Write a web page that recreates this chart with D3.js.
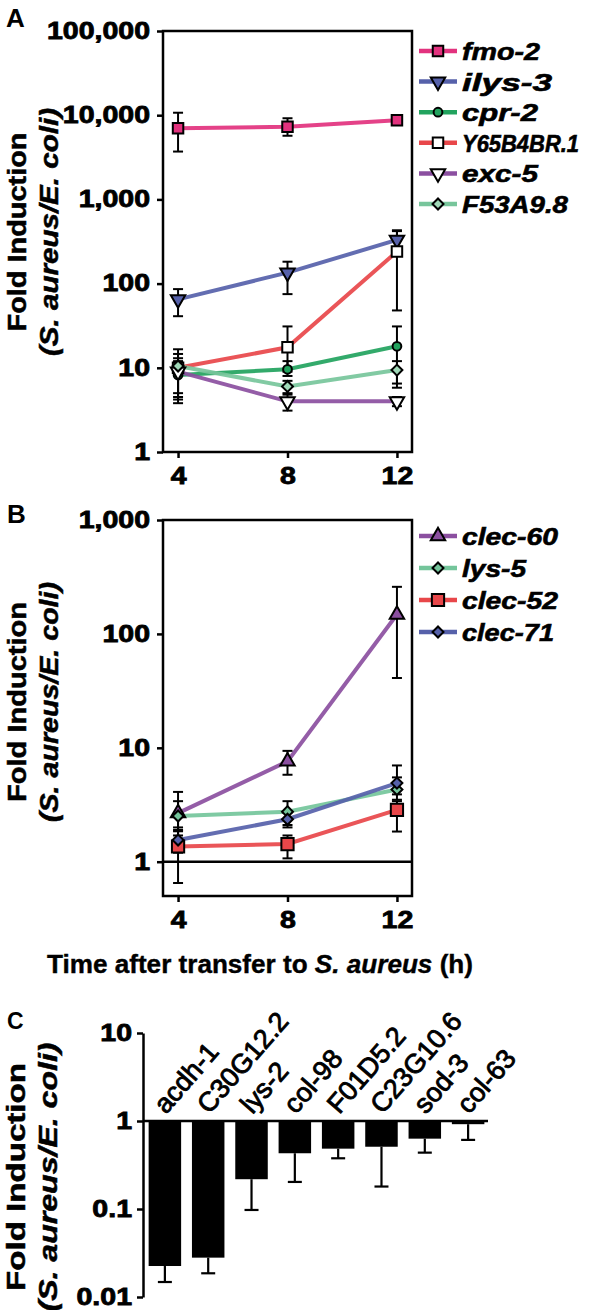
<!DOCTYPE html>
<html><head><meta charset="utf-8">
<script src="https://cdn.jsdelivr.net/npm/d3@7"></script>
<style>
body{margin:0;background:#fff}
svg{display:block}
text{font-family:"Liberation Sans",Arial,Helvetica,sans-serif}
</style>
</head><body>
<svg id="c" width="594" height="1310"></svg>
<script>
// ---------------- DATA ----------------
const times = [4, 8, 12];
const timeTicks = [4, 8, 12];

// Panel A
const aGenes = ["fmo-2", "ilys-3", "cpr-2", "Y65B4BR.1", "exc-5", "F53A9.8"];
const fmo2   = [7000, 7300, 8700],  fmo2Hi = [10700, 9200, 9600],  fmo2Lo = [3700, 5700, 7800];
const ilys3  = [65, 135, 330],      ilys3Hi = [86, 182, 430],      ilys3Lo = [41, 75, 270];
const cpr2   = [8.2, 9.6, 18],      cpr2Hi = [14.6, 12, 31],       cpr2Lo = [4.5, 8, 5.8];
const y65    = [10, 17.5, 240],     y65Hi = [16.6, 31, 420],       y65Lo = [5, 9, 48];
const exc5   = [9, 4, 4],           exc5Hi = [12, 4.8, 4.5],       exc5Lo = [3.8, 3.1, 3.5];
const f53    = [10.5, 6, 9.4],      f53Hi = [13, 7, 12],           f53Lo = [4.2, 5, 6.5];
const aTicks = [1, 10, 100, 1000, 10000, 100000];

// Panel B
const bGenes = ["clec-60", "lys-5", "clec-52", "clec-71"];
const clec60 = [2.67, 7.6, 148],    clec60Hi = [4.1, 9.4, 259],    clec60Lo = [1.7, 5.8, 41];
const lys5   = [2.52, 2.75, 4.3],   lys5Hi = [3.4, 3.4, 5.5],      lys5Lo = [1.9, 2.1, 3.5];
const clec52 = [1.36, 1.43, 2.85],  clec52Hi = [2.0, 1.7, 3.4],    clec52Lo = [0.65, 1.07, 1.84];
const clec71 = [1.55, 2.36, 4.9],   clec71Hi = [1.85, 2.7, 7.0],   clec71Lo = [1.2, 2.0, 3.9];
const bTicks = [1, 10, 100, 1000];

// Panel C
const cGenes = ["acdh-1", "C30G12.2", "lys-2", "col-98", "F01D5.2", "C23G10.6", "sod-3", "col-63"];
const cValues = [0.0225, 0.028, 0.218, 0.43, 0.485, 0.51, 0.63, 0.92];
const cErrLo  = [0.0148, 0.0186, 0.0975, 0.203, 0.377, 0.18, 0.437, 0.61];
const cTicks = [0.01, 0.1, 1, 10];

// ---------------- STYLES ----------------
const aSeries = [
  {name: aGenes[0], v: fmo2,  hi: fmo2Hi,  lo: fmo2Lo,  color: "#e2327e", sym: "square", fill: "#e2327e"},
  {name: aGenes[1], v: ilys3, hi: ilys3Hi, lo: ilys3Lo, color: "#5661aa", sym: "down",   fill: "#5661aa"},
  {name: aGenes[2], v: cpr2,  hi: cpr2Hi,  lo: cpr2Lo,  color: "#22a35e", sym: "circle", fill: "#22a35e"},
  {name: aGenes[3], v: y65,   hi: y65Hi,   lo: y65Lo,   color: "#e8474a", sym: "square", fill: "#ffffff"},
  {name: aGenes[4], v: exc5,  hi: exc5Hi,  lo: exc5Lo,  color: "#8b4fa0", sym: "down",   fill: "#ffffff"},
  {name: aGenes[5], v: f53,   hi: f53Hi,   lo: f53Lo,   color: "#77c59b", sym: "diamond",fill: "#9fd8b7"}
];
const bSeries = [
  {name: bGenes[0], v: clec60, hi: clec60Hi, lo: clec60Lo, color: "#8b4fa0", sym: "up",      fill: "#8b4fa0"},
  {name: bGenes[1], v: lys5,   hi: lys5Hi,   lo: lys5Lo,   color: "#74c59b", sym: "diamond", fill: "#74c59b"},
  {name: bGenes[2], v: clec52, hi: clec52Hi, lo: clec52Lo, color: "#e8474a", sym: "squareL", fill: "#e8474a"},
  {name: bGenes[3], v: clec71, hi: clec71Hi, lo: clec71Lo, color: "#5661aa", sym: "diamond", fill: "#5661aa"}
];

const svg = d3.select("#c");
const FONT = '"Liberation Sans",Arial,Helvetica,sans-serif';

function fit(sel, k) {
  sel.each(function () {
    const w = this.getComputedTextLength();
    d3.select(this).attr("textLength", w * k).attr("lengthAdjust", "spacingAndGlyphs");
  });
}
function fitTo(sel, len) {
  sel.attr("textLength", len).attr("lengthAdjust", "spacingAndGlyphs");
}

function symPath(type) {
  const s = {
    square: d3.symbol(d3.symbolSquare, 110)(),
    squareL: d3.symbol(d3.symbolSquare, 150)(),
    circle: d3.symbol(d3.symbolCircle, 60)(),
    up: d3.symbol(d3.symbolTriangle, 90)(),
    down: d3.symbol(d3.symbolTriangle, 90)(),
    diamond: d3.symbol(d3.symbolSquare, 60)()
  };
  return s[type];
}
function symTransform(type, x, y) {
  if (type === "down") return `translate(${x},${y}) rotate(180)`;
  if (type === "diamond") return `translate(${x},${y}) rotate(45)`;
  return `translate(${x},${y})`;
}

function drawMarker(g, s, x, y) {
  g.append("path")
    .attr("d", symPath(s.sym))
    .attr("transform", symTransform(s.sym, x, y))
    .attr("fill", s.fill)
    .attr("stroke", "#000")
    .attr("stroke-width", 2);
}

function tickStyle(g, k) {
  g.selectAll(".tick text")
    .attr("font-size", 23)
    .attr("font-weight", "bold")
    .attr("fill", "#000")
    .attr("stroke", "#000")
    .attr("stroke-width", 0.8)
    .style("font-family", FONT);
  g.selectAll(".tick line").attr("stroke", "#000").attr("stroke-width", 2.5);
  fit(g.selectAll(".tick text"), k);
}

function yTitle(x1, x2, cy, len1, len2) {
  const t1 = svg.append("text")
    .attr("transform", `translate(${x1},${cy}) rotate(-90)`)
    .attr("text-anchor", "middle")
    .attr("font-size", 25).attr("font-weight", "bold")
    .attr("stroke", "#000").attr("stroke-width", 0.5)
    .text("Fold Induction");
  fitTo(t1, len1);
  const t2 = svg.append("text")
    .attr("transform", `translate(${x2},${cy}) rotate(-90)`)
    .attr("text-anchor", "middle")
    .attr("font-size", 25).attr("font-weight", "bold").attr("font-style", "italic")
    .attr("stroke", "#000").attr("stroke-width", 0.5)
    .text("(S. aureus/E. coli)");
  fitTo(t2, len2);
}

function linePanel(series, y, x, box, ticks, legendY0, legendStep, legendLens) {
  const g = svg.append("g");
  const line = d3.line().x((d, i) => x(times[i])).y(d => y(d));
  series.forEach(s => {
    g.append("path").attr("d", line(s.v)).attr("fill", "none")
      .attr("stroke", s.color).attr("stroke-width", 4).attr("stroke-opacity", 0.92);
  });
  series.forEach(s => {
    times.forEach((t, i) => {
      const cx = x(t);
      g.append("line").attr("x1", cx).attr("x2", cx).attr("y1", y(s.hi[i])).attr("y2", y(s.lo[i]))
        .attr("stroke", "#000").attr("stroke-width", 2);
      [s.hi[i], s.lo[i]].forEach(v => {
        g.append("line").attr("x1", cx - 5).attr("x2", cx + 5).attr("y1", y(v)).attr("y2", y(v))
          .attr("stroke", "#000").attr("stroke-width", 2);
      });
    });
  });
  series.forEach(s => {
    times.forEach((t, i) => drawMarker(g, s, x(t), y(s.v[i])));
  });
  svg.append("rect").attr("x", box[0]).attr("y", box[1]).attr("width", box[2] - box[0]).attr("height", box[3] - box[1])
    .attr("fill", "none").attr("stroke", "#000").attr("stroke-width", 2.5);
  const ay = svg.append("g").attr("transform", `translate(${box[0]},0)`)
    .call(d3.axisLeft(y).tickValues(ticks).tickFormat(d3.format(",")).tickSize(6).tickPadding(7).tickSizeOuter(0));
  ay.select(".domain").remove();
  tickStyle(ay, 1.24);
  const ax = svg.append("g").attr("transform", `translate(0,${box[3]})`)
    .call(d3.axisBottom(x).tickValues(timeTicks).tickFormat(d3.format("d")).tickSize(6).tickPadding(10).tickSizeOuter(0));
  ax.select(".domain").remove();
  tickStyle(ax, 1.24);
  const lg = svg.append("g");
  series.forEach((s, i) => {
    const ly = legendY0 + i * legendStep;
    lg.append("line").attr("x1", 419).attr("x2", 457).attr("y1", ly).attr("y2", ly)
      .attr("stroke", s.color).attr("stroke-width", 4.5);
    drawMarker(lg, s, 438, ly);
    const t = lg.append("text").attr("x", 462).attr("y", ly + 9)
      .attr("font-size", 24).attr("font-weight", "bold").attr("font-style", "italic")
      .attr("stroke", "#000").attr("stroke-width", 0.6)
      .text(s.name);
    fitTo(t, legendLens[i]);
  });
}

// ---------------- PANEL A ----------------
const xA = d3.scaleLinear().domain([3.45, 12.55]).range([163, 412]);
const yA = d3.scaleLog().domain([1, 100000]).range([452, 31]);
linePanel(aSeries, yA, xA, [163, 31, 412, 452], aTicks, 51, 30.6, [78, 90, 76, 117, 76, 106]);
yTitle(26, 58, 232, 199, 248);

// ---------------- PANEL B ----------------
const xB = d3.scaleLinear().domain([3.45, 12.55]).range([163, 412]);
const yB = d3.scaleLog().domain([0.5, 1000]).range([896, 520]);
svg.append("line").attr("x1", 163).attr("x2", 412).attr("y1", yB(1)).attr("y2", yB(1))
  .attr("stroke", "#000").attr("stroke-width", 2.5);
linePanel(bSeries, yB, xB, [163, 520, 412, 896], bTicks, 536, 32, [96, 64, 96, 92]);
yTitle(26, 58, 702, 200, 240);

const xt = svg.append("text").attr("x", 260).attr("y", 973).attr("text-anchor", "middle")
  .attr("font-size", 26).attr("font-weight", "bold").attr("stroke", "#000").attr("stroke-width", 0.4);
xt.append("tspan").text("Time after transfer to ");
xt.append("tspan").attr("font-style", "italic").text("S. aureus");
xt.append("tspan").text(" (h)");
fitTo(xt, 426);

// ---------------- PANEL C ----------------
const xC = d3.scaleBand().domain(cGenes).range([143, 490]).paddingInner(0.25).paddingOuter(0.13);
const yC = d3.scaleLog().domain([0.01, 10]).range([1297, 1033]);
const gc = svg.append("g");
cGenes.forEach((gname, i) => {
  const bx = xC(gname), bw = xC.bandwidth(), cx = bx + bw / 2;
  gc.append("rect").attr("x", bx).attr("width", bw)
    .attr("y", yC(1)).attr("height", yC(cValues[i]) - yC(1)).attr("fill", "#000");
  gc.append("line").attr("x1", cx).attr("x2", cx).attr("y1", yC(cValues[i])).attr("y2", yC(cErrLo[i]))
    .attr("stroke", "#000").attr("stroke-width", 2.2);
  gc.append("line").attr("x1", cx - 7).attr("x2", cx + 7).attr("y1", yC(cErrLo[i])).attr("y2", yC(cErrLo[i]))
    .attr("stroke", "#000").attr("stroke-width", 2.2);
  gc.append("text").attr("transform", `translate(${cx + 1},${yC(1) - 6}) rotate(-49)`)
    .attr("font-size", 27).attr("stroke", "#000").attr("stroke-width", 0.9)
    .text(gname);
});
svg.append("line").attr("x1", 143).attr("x2", 488).attr("y1", yC(1)).attr("y2", yC(1))
  .attr("stroke", "#000").attr("stroke-width", 2.5);
const ayC = svg.append("g").attr("transform", "translate(143,0)")
  .call(d3.axisLeft(yC).tickValues(cTicks).tickFormat(d => String(d)).tickSize(6).tickPadding(5).tickSizeOuter(0));
ayC.select(".domain").attr("stroke", "#000").attr("stroke-width", 2.5);
tickStyle(ayC, 1.24);
yTitle(25, 57, 1177, 228, 269);

[["A", 6, 27, 26], ["B", 7, 523, 26], ["C", 7, 1029, 23]].forEach(([t, x, y, fs]) => {
  svg.append("text").attr("x", x).attr("y", y).attr("font-size", fs).attr("font-weight", "bold").text(t);
});
</script>
</body></html>
